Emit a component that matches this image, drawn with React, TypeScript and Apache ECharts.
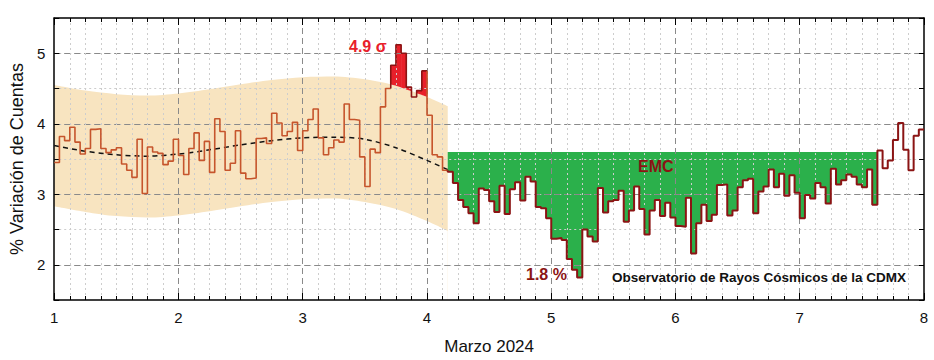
import React, { useEffect, useRef } from "react";
import * as echarts from "echarts";

// ---- data -------------------------------------------------------------
const START_DAY = 1;
const BINS_PER_DAY = 24;

// hourly % count variation, one array per day of March 2024
const day1 = [3.45, 3.82, 3.76, 3.95, 3.74, 3.57, 3.65, 3.92, 3.93, 3.65, 3.59, 3.63, 3.66, 3.43, 3.34, 3.24, 3.78, 3.01, 3.67, 3.60, 3.58, 3.42, 3.47, 3.78];
const day2 = [3.55, 3.28, 3.65, 3.87, 3.48, 3.75, 3.31, 4.07, 3.89, 3.34, 3.44, 3.90, 3.30, 3.22, 3.23, 3.79, 3.80, 3.72, 4.15, 4.01, 3.83, 3.89, 4.02, 3.62];
const day3 = [3.90, 4.06, 4.21, 3.80, 3.56, 3.66, 3.77, 3.74, 4.28, 4.06, 4.05, 3.53, 3.11, 3.64, 3.59, 4.24, 4.50, 4.83, 5.12, 5.00, 4.52, 4.38, 4.47, 4.75];
const day4 = [4.12, 3.56, 3.53, 3.34, 3.32, 3.16, 2.92, 2.82, 2.73, 2.59, 3.08, 3.06, 2.90, 2.75, 3.12, 2.72, 3.07, 3.17, 2.91, 3.25, 3.18, 2.82, 2.80, 2.66];
const day5 = [2.37, 2.38, 2.35, 2.08, 1.93, 1.82, 2.50, 2.40, 2.33, 3.09, 2.74, 2.90, 2.92, 3.05, 2.61, 2.77, 3.11, 2.79, 2.43, 2.77, 2.92, 2.69, 2.88, 2.67];
const day6 = [2.55, 2.54, 2.95, 2.16, 2.59, 2.85, 2.62, 2.71, 3.13, 3.14, 2.70, 2.77, 3.10, 3.20, 3.22, 2.73, 3.04, 3.11, 3.35, 3.10, 3.29, 2.98, 3.27, 3.02];
const day7 = [2.66, 2.99, 2.94, 3.16, 3.10, 2.87, 3.36, 3.14, 3.20, 3.28, 3.25, 3.14, 3.10, 3.35, 2.85, 3.62, 3.37, 3.48, 3.77, 4.01, 3.63, 3.34, 3.83, 3.92];

// fitted baseline and confidence band (day, value)
const bandX = [1.0, 1.25, 1.5, 1.75, 2.0, 2.25, 2.5, 2.75, 3.0, 3.25, 3.5, 3.75, 4.0, 4.167];
const fitY = [3.69, 3.61, 3.56, 3.54, 3.57, 3.63, 3.70, 3.76, 3.80, 3.81, 3.78, 3.66, 3.48, 3.35];
const bandUpper = [4.55, 4.47, 4.42, 4.40, 4.43, 4.49, 4.56, 4.62, 4.66, 4.67, 4.63, 4.54, 4.38, 4.25];
const bandLower = [2.83, 2.75, 2.69, 2.67, 2.70, 2.76, 2.83, 2.89, 2.93, 2.94, 2.89, 2.79, 2.62, 2.48];

// event ranges (0-based hourly bin indices)
const RED_FROM = 65;
const RED_TO = 71;
const EMC_FROM = 76;
const EMC_TO = 158;
const EMC_BASE = 3.6;

const xTicks = [1, 2, 3, 4, 5, 6, 7, 8];

// ---- helpers ----------------------------------------------------------
const values = [...day1, ...day2, ...day3, ...day4, ...day5, ...day6, ...day7];
const binStart = (i: number) => START_DAY + i / BINS_PER_DAY;

function interpUpper(x: number) {
  for (let k = 0; k < bandX.length - 1; k++) {
    if (x >= bandX[k] && x <= bandX[k + 1]) {
      const t = (x - bandX[k]) / (bandX[k + 1] - bandX[k]);
      return bandUpper[k] + t * (bandUpper[k + 1] - bandUpper[k]);
    }
  }
  return bandUpper[bandUpper.length - 1];
}

function stepPoints(from: number, to: number) {
  const pts: number[][] = [];
  if (from > 0) pts.push([binStart(from), values[from - 1]]);
  for (let i = from; i <= to; i++) pts.push([binStart(i), values[i]]);
  pts.push([binStart(to + 1), values[to]]);
  return pts;
}

const FONT = '"Liberation Sans", Arial, sans-serif';
const ORANGE = "#c6552c";
const DARK = "#8b1414";

export default function App() {
  const ref = useRef<HTMLDivElement>(null);

  useEffect(() => {
    if (!ref.current) return;
    const chart = echarts.init(ref.current, null, { renderer: "svg" });

    const segments = [
      { from: 0, to: RED_FROM - 1, color: ORANGE, width: 1.6 },
      { from: RED_FROM, to: RED_TO, color: DARK, width: 1.6 },
      { from: RED_TO + 1, to: EMC_FROM - 1, color: ORANGE, width: 1.6 },
      { from: EMC_FROM, to: values.length - 1, color: DARK, width: 2 },
    ];

    const stepSeries = segments.map((s) => ({
      type: "line",
      step: "end",
      data: stepPoints(s.from, s.to),
      symbol: "none",
      silent: true,
      z: 4,
      lineStyle: { color: s.color, width: s.width },
    }));

    const greenSeries = {
      type: "custom",
      z: 1,
      silent: true,
      clip: false,
      data: [[binStart(EMC_FROM), EMC_BASE]],
      renderItem: (_p: any, api: any) => {
        const pts: number[][] = [];
        pts.push(api.coord([binStart(EMC_FROM), EMC_BASE]));
        for (let i = EMC_FROM; i <= EMC_TO; i++) {
          pts.push(api.coord([binStart(i), values[i]]));
          pts.push(api.coord([binStart(i + 1), values[i]]));
        }
        pts.push(api.coord([binStart(EMC_TO + 1), EMC_BASE]));
        return { type: "polygon", shape: { points: pts }, style: { fill: "#2bb04b" } };
      },
    };

    const redSeries = {
      type: "custom",
      z: 1,
      silent: true,
      clip: false,
      data: [[binStart(RED_FROM), values[RED_FROM]]],
      renderItem: (_p: any, api: any) => {
        const children: any[] = [];
        for (let i = RED_FROM; i <= RED_TO; i++) {
          const x0 = binStart(i);
          const x1 = binStart(i + 1);
          const v = values[i];
          const u0 = interpUpper(x0);
          const u1 = interpUpper(x1);
          if (v <= Math.min(u0, u1)) continue;
          const pts = [
            api.coord([x0, Math.min(u0, v)]),
            api.coord([x0, v]),
            api.coord([x1, v]),
            api.coord([x1, Math.min(u1, v)]),
          ];
          pts[2][0] += 0.4;
          pts[3][0] += 0.4;
          children.push({ type: "polygon", shape: { points: pts }, style: { fill: "#e8202a" } });
        }
        return { type: "group", children };
      },
    };

    const option: any = {
      animation: false,
      grid: { left: 52, right: 10, top: 18, bottom: 60, containLabel: false },
      xAxis: [
        {
          type: "value",
          min: xTicks[0],
          max: xTicks[xTicks.length - 1],
          interval: 1,
          position: "bottom",
          z: 2,
          axisLine: { show: true, onZero: false, lineStyle: { color: "#000", width: 1.5 } },
          axisTick: { show: true, inside: true, length: 7, lineStyle: { color: "#000", width: 1 } },
          minorTick: { show: true, splitNumber: 8, length: 4, lineStyle: { color: "#000", width: 1 } },
          axisLabel: { fontSize: 15, color: "#111", margin: 10, fontFamily: FONT },
          splitLine: { show: true, showMinLine: false, showMaxLine: false, lineStyle: { color: "#8a8a8a", type: [6, 4], width: 1 } },
          minorSplitLine: { show: true, lineStyle: { color: "#cdcdcd", type: [2, 3], width: 1 } },
          name: "Marzo 2024",
          nameLocation: "middle",
          nameGap: 38,
          nameTextStyle: { fontSize: 17, color: "#111", fontFamily: FONT },
        },
        {
          type: "value",
          min: xTicks[0],
          max: xTicks[xTicks.length - 1],
          interval: 1,
          position: "top",
          z: 2,
          axisLine: { show: true, onZero: false, lineStyle: { color: "#000", width: 1.5 } },
          axisTick: { show: true, inside: true, length: 7, lineStyle: { color: "#000", width: 1 } },
          minorTick: { show: true, splitNumber: 8, length: 4, lineStyle: { color: "#000", width: 1 } },
          axisLabel: { show: false },
          splitLine: { show: false },
        },
      ],
      yAxis: [
        {
          type: "value",
          min: 1.5,
          max: 5.5,
          interval: 0.5,
          position: "left",
          z: 2,
          axisLine: { show: true, onZero: false, lineStyle: { color: "#000", width: 1.5 } },
          axisTick: { show: true, inside: true, length: 5, lineStyle: { color: "#000", width: 1 } },
          axisLabel: {
            fontSize: 15,
            color: "#111",
            margin: 9,
            fontFamily: FONT,
            formatter: (v: number) => (Number.isInteger(v) ? String(v) : ""),
          },
          splitLine: { show: true, showMinLine: false, showMaxLine: false, lineStyle: { color: "#cdcdcd", type: [2, 3], width: 1 } },
          name: "% Variación de Cuentas",
          nameLocation: "middle",
          nameGap: 27,
          nameTextStyle: { fontSize: 18, color: "#111", fontFamily: FONT },
        },
        {
          type: "value",
          min: 1.5,
          max: 5.5,
          interval: 0.5,
          position: "right",
          z: 2,
          axisLine: { show: true, onZero: false, lineStyle: { color: "#000", width: 1.5 } },
          axisTick: { show: true, inside: true, length: 5, lineStyle: { color: "#000", width: 1 } },
          axisLabel: { show: false },
          splitLine: { show: false },
        },
        {
          type: "value",
          min: 1.5,
          max: 5.5,
          splitNumber: 4,
          position: "left",
          z: 2,
          axisLine: { show: false },
          axisTick: { show: false },
          axisLabel: { show: false },
          splitLine: { show: true, showMinLine: false, showMaxLine: false, lineStyle: { color: "#8a8a8a", type: [6, 4], width: 1 } },
        },
      ],
      series: [
        {
          // band upper edge, filled down to the axis
          type: "line",
          data: bandX.map((x, i) => [x, bandUpper[i]]),
          symbol: "none",
          smooth: 0.3,
          silent: true,
          z: 1,
          lineStyle: { opacity: 0 },
          areaStyle: { color: "#f8e4c0", opacity: 1, origin: "start" },
        },
        {
          // band lower edge, clears the area beneath it
          type: "line",
          data: bandX.map((x, i) => [x, bandLower[i]]),
          symbol: "none",
          smooth: 0.3,
          silent: true,
          z: 1,
          lineStyle: { opacity: 0 },
          areaStyle: { color: "#ffffff", opacity: 1, origin: "start" },
        },
        greenSeries,
        redSeries,
        {
          type: "line",
          data: bandX.map((x, i) => [x, fitY[i]]),
          symbol: "none",
          smooth: 0.3,
          silent: true,
          z: 3,
          lineStyle: { color: "#111", width: 1.5, type: [5, 4] },
        },
        ...stepSeries,
      ],
      graphic: [
        {
          type: "text",
          x: 349,
          y: 46,
          z: 10,
          style: { text: "4.9 σ", fill: "#e8202a", font: `bold 16px ${FONT}`, align: "left", verticalAlign: "middle" },
        },
        {
          type: "text",
          x: 638,
          y: 166,
          z: 10,
          style: { text: "EMC", fill: DARK, font: `bold 16px ${FONT}`, align: "left", verticalAlign: "middle" },
        },
        {
          type: "text",
          x: 526,
          y: 274,
          z: 10,
          style: { text: "1.8 %", fill: DARK, font: `bold 16px ${FONT}`, align: "left", verticalAlign: "middle" },
        },
        {
          type: "text",
          x: 612,
          y: 277,
          z: 10,
          style: {
            text: "Observatorio de Rayos Cósmicos de la CDMX",
            fill: "#111",
            font: `bold 13.5px ${FONT}`,
            align: "left",
            verticalAlign: "middle",
          },
        },
      ],
    };

    chart.setOption(option);
    return () => chart.dispose();
  }, []);

  return (
    <div
      ref={ref}
      style={{ position: "fixed", left: 0, top: 0, width: 934, height: 360, background: "#fff" }}
    />
  );
}
